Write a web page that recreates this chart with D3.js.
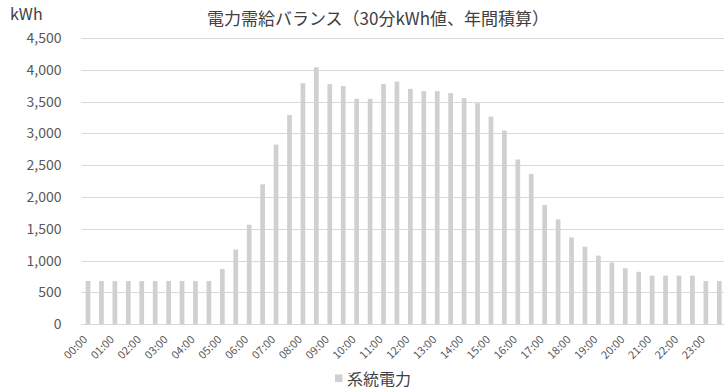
<!DOCTYPE html>
<html>
<head>
<meta charset="utf-8">
<script src="https://cdn.jsdelivr.net/npm/d3@7"></script>
<style>
  html, body { margin: 0; padding: 0; background: #fff; }
  svg { display: block; }
</style>
</head>
<body>
<svg id="chart" width="724" height="390"></svg>
<script>
// Half-hour slots of the day
const categories = [];
for (let h = 0; h < 24; h++) {
  const hh = String(h).padStart(2, "0");
  categories.push(hh + ":00", hh + ":30");
}

// Grid power per half hour (kWh, annual total)
const gridPower = [
  680, 680, 680, 680, 680, 680, 680, 680, 680, 680,
  870, 1175, 1565, 2200, 2825, 3290, 3790, 4040, 3775, 3745,
  3545, 3545, 3775, 3815, 3700, 3665, 3665, 3635, 3555, 3475,
  3265, 3045, 2590, 2365, 1875, 1650, 1365, 1220, 1080, 970,
  880, 825, 765, 765, 765, 765, 680, 680
];

const yTicks = [0, 500, 1000, 1500, 2000, 2500, 3000, 3500, 4000, 4500];

const titleText = "電力需給バランス（30分kWh値、年間積算）";
const unitText = "kWh";
const seriesName = "系統電力";

const svg = d3.select("#chart");
const fontFamily = "'Noto Sans CJK JP', 'Noto Sans', sans-serif";

const plot = { left: 81.3, right: 726, top: 38, bottom: 324.3 };

const x = d3.scaleBand()
  .domain(categories)
  .range([plot.left, plot.right])
  .paddingInner(0.65)
  .paddingOuter(0.325);

const y = d3.scaleLinear()
  .domain([0, 4500])
  .range([plot.bottom, plot.top]);

// Horizontal gridlines
svg.append("g")
  .selectAll("line")
  .data(yTicks)
  .join("line")
  .attr("x1", plot.left)
  .attr("x2", 724)
  .attr("y1", d => Math.round(y(d)) + 0.5)
  .attr("y2", d => Math.round(y(d)) + 0.5)
  .attr("stroke", "#d9d9d9")
  .attr("stroke-width", 1);

// Bars
svg.append("g")
  .selectAll("rect")
  .data(gridPower)
  .join("rect")
  .attr("x", (d, i) => x(categories[i]))
  .attr("width", x.bandwidth())
  .attr("y", d => y(d))
  .attr("height", d => y(0) - y(d))
  .attr("fill", "#d0d0d0");

// Y axis labels
const yAxis = d3.axisLeft(y)
  .tickValues(yTicks)
  .tickFormat(d3.format(","))
  .tickSize(0)
  .tickPadding(0);

const yG = svg.append("g")
  .attr("transform", `translate(61.5,0)`)
  .call(yAxis);
yG.select(".domain").remove();
yG.selectAll("text")
  .attr("font-family", fontFamily)
  .attr("font-size", 14)
  .attr("fill", "#595959");

// X axis labels (hourly), rotated
const hourly = categories.filter((c, i) => i % 2 === 0);
const xAxis = d3.axisBottom(x)
  .tickValues(hourly)
  .tickSize(0)
  .tickPadding(0);

const xG = svg.append("g")
  .attr("transform", `translate(0,${plot.bottom})`)
  .call(xAxis);
xG.select(".domain").remove();
xG.selectAll("text")
  .attr("font-family", fontFamily)
  .attr("font-size", 11)
  .attr("fill", "#595959")
  .attr("text-anchor", "end")
  .attr("dy", null)
  .attr("y", null)
  .attr("transform", "translate(0,16) rotate(-45)");

// Title
svg.append("text")
  .attr("x", 378)
  .attr("y", 25)
  .attr("text-anchor", "middle")
  .attr("font-family", fontFamily)
  .attr("font-size", 17)
  .attr("fill", "#404040")
  .text(titleText);

// Unit label
svg.append("text")
  .attr("x", 10)
  .attr("y", 20)
  .attr("font-family", fontFamily)
  .attr("font-size", 16)
  .attr("fill", "#404040")
  .text(unitText);

// Legend
const legend = svg.append("g");
legend.append("rect")
  .attr("x", 335)
  .attr("y", 374.5)
  .attr("width", 7.5)
  .attr("height", 7.5)
  .attr("fill", "#d0d0d0");
legend.append("text")
  .attr("x", 347)
  .attr("y", 384.5)
  .attr("font-family", fontFamily)
  .attr("font-size", 16)
  .attr("fill", "#404040")
  .text(seriesName);
</script>
</body>
</html>
